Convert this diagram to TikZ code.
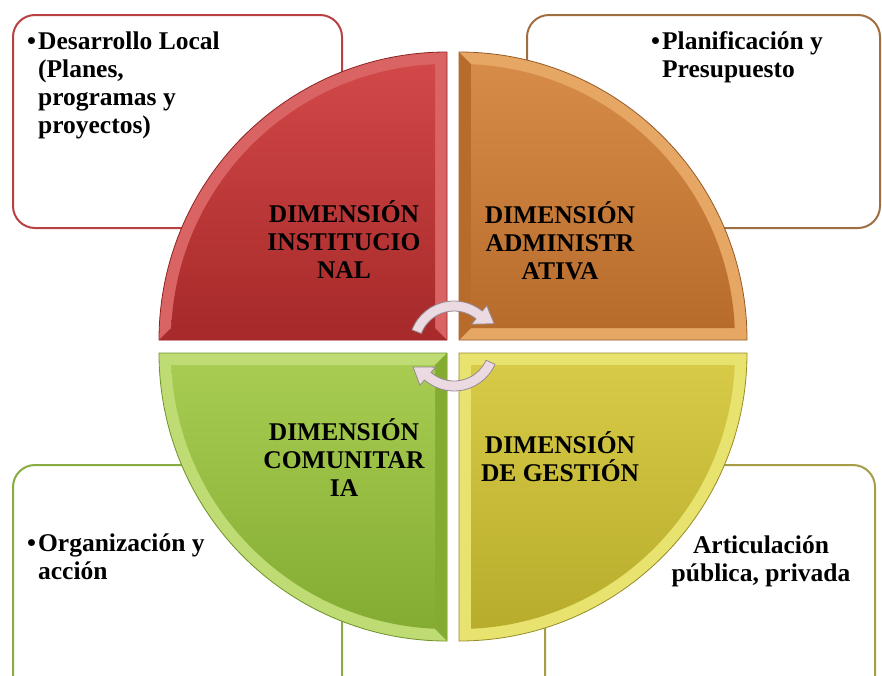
\documentclass[tikz,border=0pt]{standalone}
\usepackage{fontspec}
\setmainfont{Liberation Serif}
\usetikzlibrary{calc}
\definecolor{redT}{RGB}{210,72,72}
\definecolor{redB}{RGB}{168,42,42}
\definecolor{redL}{RGB}{218,100,100}
\definecolor{redE}{RGB}{140,35,35}
\definecolor{oraT}{RGB}{214,140,72}
\definecolor{oraB}{RGB}{184,108,44}
\definecolor{oraL}{RGB}{230,166,100}
\definecolor{oraE}{RGB}{150,90,40}
\definecolor{greT}{RGB}{168,204,82}
\definecolor{greB}{RGB}{132,172,50}
\definecolor{greL}{RGB}{190,220,115}
\definecolor{greE}{RGB}{110,145,40}
\definecolor{yelT}{RGB}{214,202,70}
\definecolor{yelB}{RGB}{184,172,44}
\definecolor{yelL}{RGB}{232,226,110}
\definecolor{yelE}{RGB}{150,140,40}
\definecolor{bRed}{RGB}{185,65,65}
\definecolor{bOra}{RGB}{160,110,65}
\definecolor{bGre}{RGB}{135,172,65}
\definecolor{bYel}{RGB}{165,158,70}
\definecolor{arrF}{RGB}{236,218,226}
\definecolor{arrD}{RGB}{150,138,145}
\tikzset{
  lbl/.style={font=\fontsize{25.5}{28}\selectfont\bfseries, align=center, inner sep=0pt, text=black},
  txt/.style={font=\fontsize{25.5}{28}\selectfont\bfseries, inner sep=0pt, text=black},
  infobox/.style={rounded corners=22pt, line width=2pt, fill=white},
  arrowstyle/.style={fill=arrF, draw=arrD, line width=0.8pt, line join=round},
  quadedge/.style={line width=0.8pt}
}
\begin{document}
\begin{tikzpicture}[x=1pt,y=-1pt]
\useasboundingbox (0,0) rectangle (882,675);
\clip (0,0) rectangle (882,675);
% info boxes
\draw[infobox, draw=bRed] (13,15) rectangle (342,228);
\draw[infobox, draw=bOra] (527,15) rectangle (880,228);
\draw[infobox, draw=bGre] (13,465) rectangle (342,700);
\draw[infobox, draw=bYel] (545,465) rectangle (875,700);
% quadrants: red
\fill[redL, draw=redE, quadedge] (447,340) -- (159,340) arc[start angle=180,end angle=270,radius=288] -- cycle;
\fill[redB] (447,340) -- (435,328) -- (171.26,328) -- (159,340) -- cycle;
\shade[top color=redT, bottom color=redB] (435,328) -- (171.26,328) arc[start angle=182.49,end angle=267.51,radius=276] -- cycle;
% orange
\fill[oraL, draw=oraE, quadedge] (459,340) -- (459,52) arc[start angle=270,end angle=360,radius=288] -- cycle;
\fill[oraB] (459,340) -- (471,328) -- (471,64.26) -- (459,52) -- cycle;
\shade[top color=oraT, bottom color=oraB] (471,328) -- (471,64.26) arc[start angle=272.49,end angle=357.51,radius=276] -- cycle;
% green
\fill[greL, draw=greE, quadedge] (447,353) -- (159,353) arc[start angle=180,end angle=90,radius=288] -- cycle;
\fill[greB] (447,353) -- (435,365) -- (435,628.74) -- (447,641) -- cycle;
\shade[top color=greT, bottom color=greB] (435,365) -- (171.26,365) arc[start angle=177.51,end angle=92.49,radius=276] -- cycle;
% yellow
\fill[yelL, draw=yelE, quadedge] (459,353) -- (747,353) arc[start angle=0,end angle=90,radius=288] -- cycle;
\shade[top color=yelT, bottom color=yelB] (471,365) -- (734.74,365) arc[start angle=2.49,end angle=87.51,radius=276] -- cycle;
% cycle arrows
\coordinate (ac) at (454,346);
\path[arrowstyle] ($(ac)+(201:45)$) arc[start angle=201,end angle=309,radius=45]
  -- ($(ac)+(309:52)$) -- ($(ac)+(331:46)$) -- ($(ac)+(309:28)$) -- ($(ac)+(309:35)$)
  arc[start angle=309,end angle=201,radius=35] -- cycle;
\path[arrowstyle] ($(ac)+(24:45)$) arc[start angle=24,end angle=131,radius=45]
  -- ($(ac)+(131:52)$) -- ($(ac)+(153:46)$) -- ($(ac)+(131:28)$) -- ($(ac)+(131:35)$)
  arc[start angle=131,end angle=24,radius=35] -- cycle;
% quadrant labels
\node[lbl] (qinst) at (344,240) {DIMENSIÓN\\INSTITUCIO\\NAL};
\node[lbl] (qadmin) at (560,241) {DIMENSIÓN\\ADMINISTR\\ATIVA};
\node[lbl] (qcom) at (344,458) {DIMENSIÓN\\COMUNITAR\\IA};
\node[lbl] (qgest) at (560,457) {DIMENSIÓN\\DE GESTIÓN};
% box texts
\node[txt, anchor=north west] (tdes) at (27,30) {\begin{tabular}{@{}l@{\hspace{2pt}}l@{}}\textbullet & Desarrollo Local\\ & (Planes,\\ & programas y\\ & proyectos)\end{tabular}};
\node[txt, anchor=north west] (tplan) at (651,30) {\begin{tabular}{@{}l@{\hspace{2pt}}l@{}}\textbullet & Planificación y\\ & Presupuesto\end{tabular}};
\node[txt, anchor=north west] (torg) at (27,532) {\begin{tabular}{@{}l@{\hspace{2pt}}l@{}}\textbullet & Organización y\\ & acción\end{tabular}};
\node[txt, anchor=north] (tart) at (761,534) {\begin{tabular}{@{}c@{}}Articulación\\pública, privada\end{tabular}};
\end{tikzpicture}
\end{document}
